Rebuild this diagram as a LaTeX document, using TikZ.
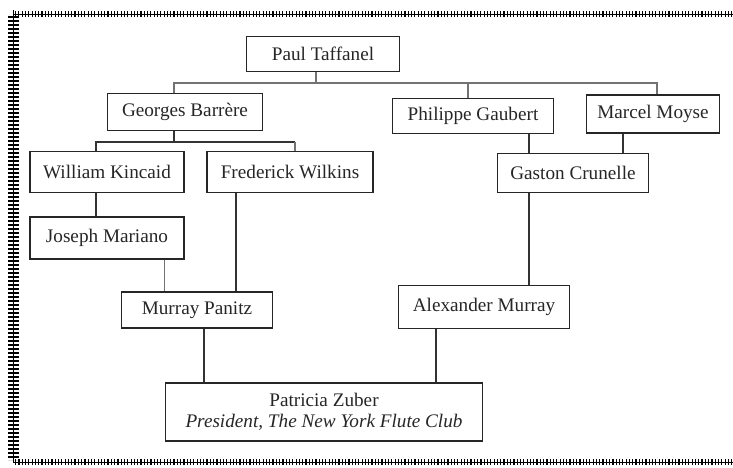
\documentclass[tikz,border=0pt]{standalone}
\usepackage{fontspec}
\setmainfont{Liberation Serif}
\usetikzlibrary{positioning}

\begin{document}
\begin{tikzpicture}[x=1pt,y=-1pt,
  person/.style={draw=black!85, line width=1.1pt, inner sep=0pt, align=center,
    text=black!85, font=\fontsize{19.2}{20.5}\selectfont},
  link/.style={line width=1.2pt, draw=black!80},
  grey link/.style={line width=1.1pt, draw=black!55}]
  \useasboundingbox (0,0) rectangle (733,468);

  % border
  \draw[line width=0.8pt] (13,14) -- (733,14);
  \draw[line width=6pt, dash pattern=on 1.1pt off 2.2pt] (15,14) -- (733,14);
  \draw[line width=0.8pt] (13,10) -- (13,462) -- (733,462);
  \draw[line width=11pt, dash pattern=on 1.6pt off 2.4pt] (13,16) -- (13,460);
  \draw[line width=6pt, dash pattern=on 1.2pt off 2.1pt] (15,462) -- (733,462);

  % teachers
  \node[person, minimum width=153, minimum height=35] (taffanel) at (323,54) {Paul Taffanel};
  \node[person, minimum width=155, minimum height=37] (barrere) at (185,112) {Georges Barrère};
  \node[person, minimum width=161, minimum height=35] (gaubert) at (473,116) {Philippe Gaubert};
  \node[person, minimum width=133, minimum height=38] (moyse) at (653,114) {Marcel Moyse};
  \node[person, minimum width=154, minimum height=41] (kincaid) at (107,172) {William Kincaid};
  \node[person, minimum width=166, minimum height=41] (wilkins) at (290,172) {Frederick Wilkins};
  \node[person, minimum width=151, minimum height=39] (crunelle) at (573,173) {Gaston Crunelle};
  \node[person, minimum width=154, minimum height=42] (mariano) at (107,238) {Joseph Mariano};
  \node[person, minimum width=151, minimum height=36] (panitz) at (197,310) {Murray Panitz};
  \node[person, minimum width=171, minimum height=43] (alexander) at (484,307) {Alexander Murray};
  \node[person, minimum width=317, minimum height=58] (zuber) at (324,412)
    {Patricia Zuber\\\textit{President, The New York Flute Club}};

  % tree from Taffanel
  \coordinate (barT) at (316,83);
  \coordinate (barL) at (174,83);
  \coordinate (barR) at (657,83);
  \coordinate (barG) at (468,83);
  \draw[grey link] (taffanel.south -| barT) -- (barT);
  \draw[grey link] (barrere.north -| barL) -- (barL) -- (barR) -- (moyse.north -| barR);
  \draw[grey link] (barG) -- (gaubert.north -| barG);

  % tree from Barrere
  \coordinate (bar2T) at (174,142);
  \coordinate (bar2L) at (96,142);
  \coordinate (bar2R) at (295,142);
  \draw[link] (barrere.south -| bar2T) -- (bar2T);
  \draw[link] (kincaid.north -| bar2L) -- (bar2L) -- (bar2R);
  \draw[grey link] (bar2R) -- (wilkins.north -| bar2R);

  % straight links
  \foreach \a/\b/\x in {kincaid/mariano/96, wilkins/panitz/236, panitz/zuber/204,
      alexander/zuber/436, gaubert/crunelle/529, moyse/crunelle/623, crunelle/alexander/529}
    \draw[link] (\a.south -| \x,0) -- (\b.north -| \x,0);
  \draw[grey link, line width=0.9pt] (mariano.south -| 164,0) -- (panitz.north -| 164,0);
\end{tikzpicture}
\end{document}
